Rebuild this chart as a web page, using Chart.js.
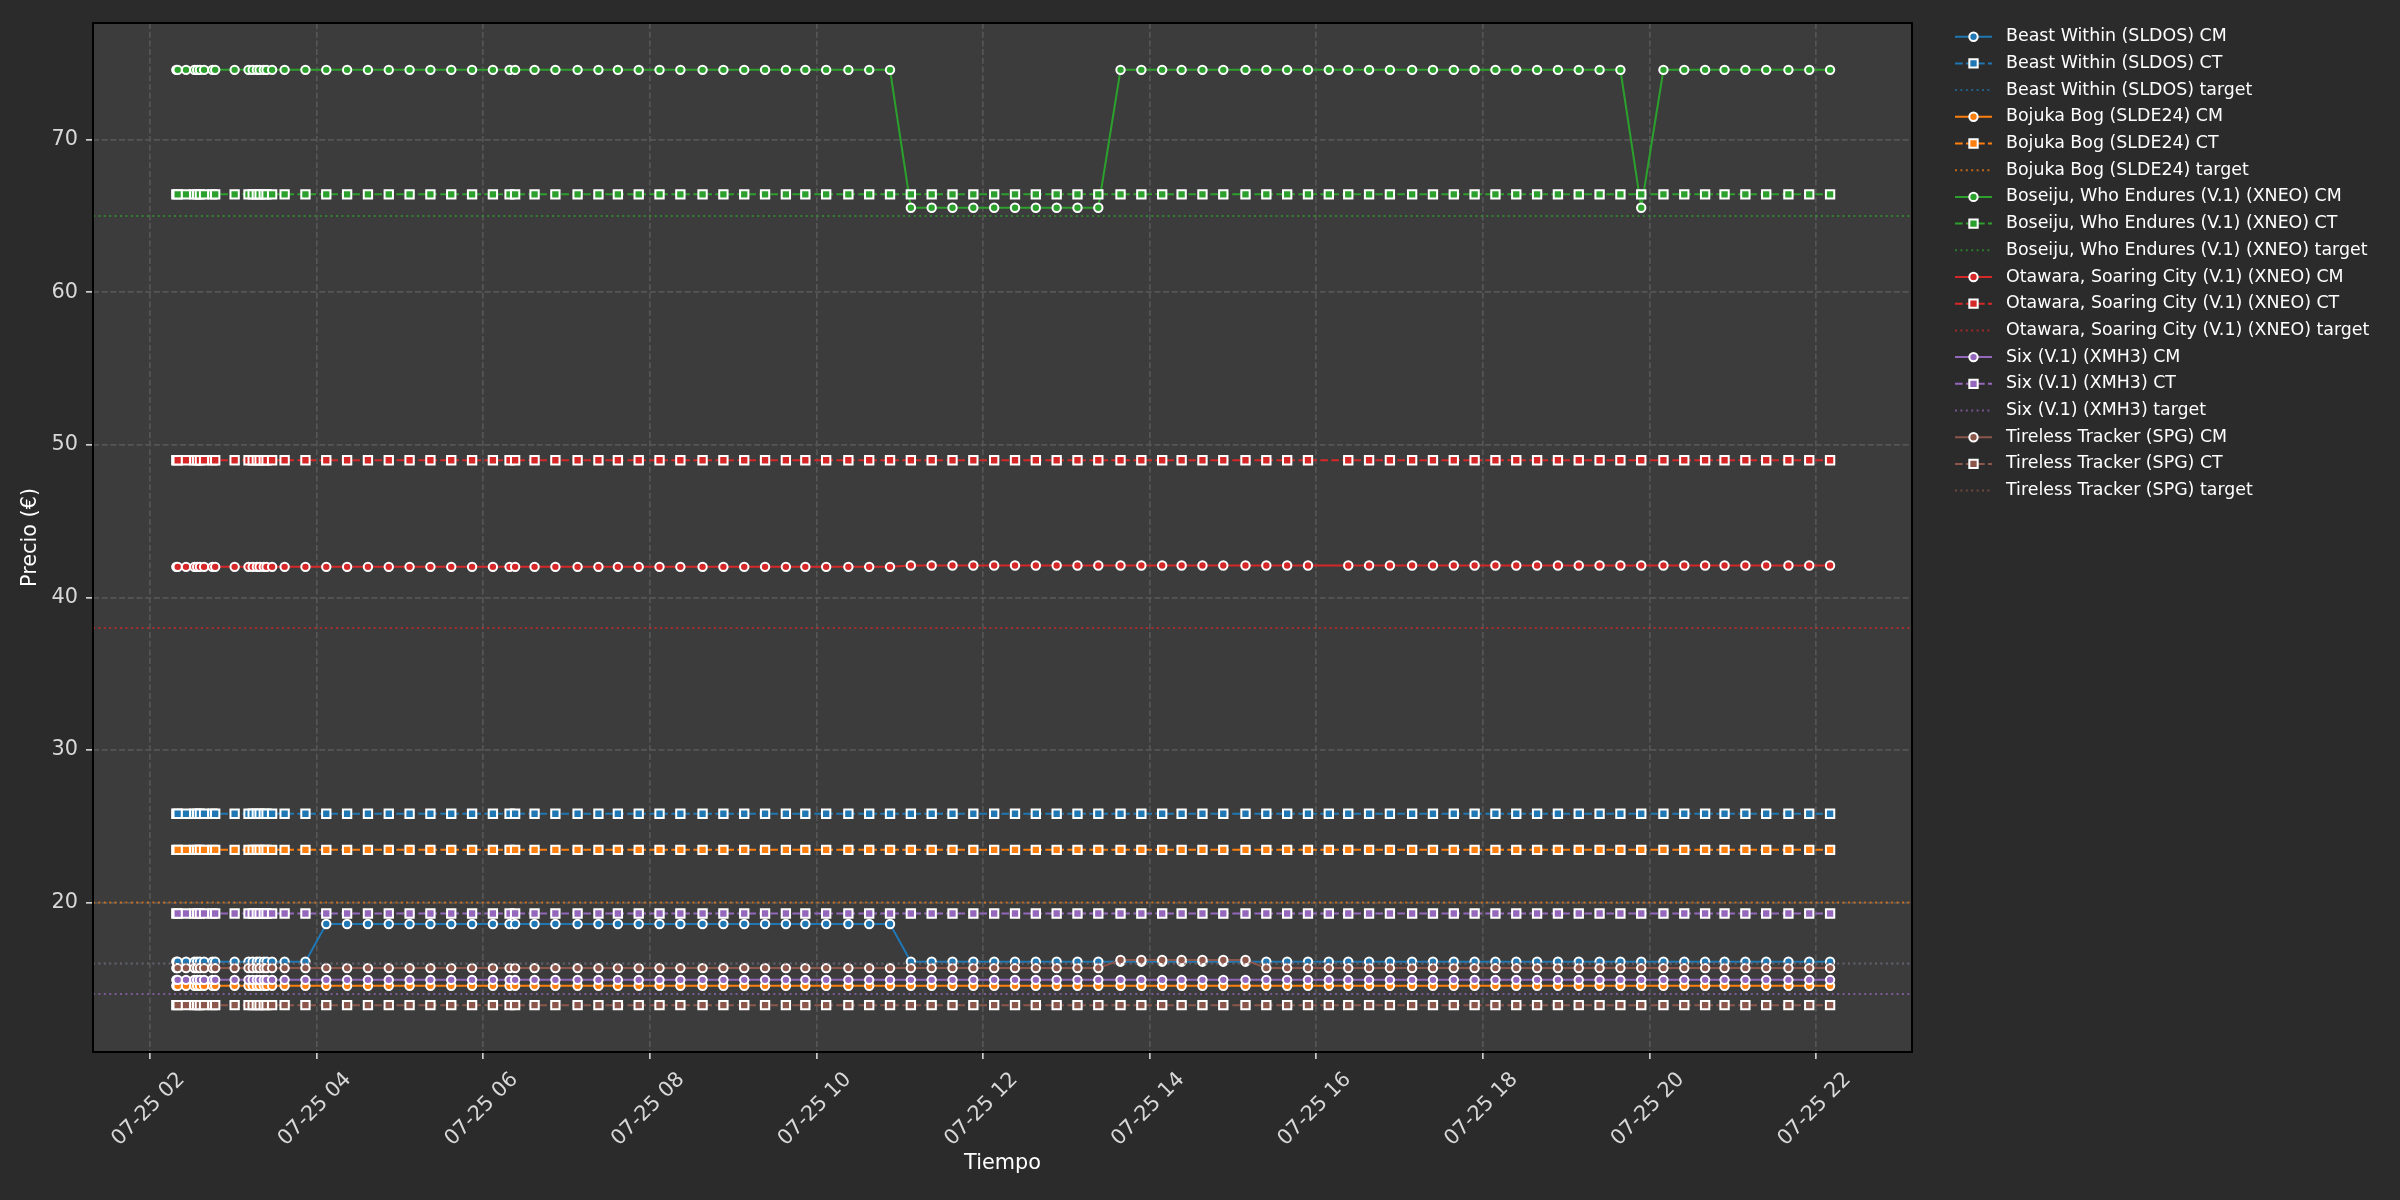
<!DOCTYPE html>
<html lang="es">
<head>
  <meta charset="UTF-8">
  <title>Precio CM / CT</title>
  <script src="https://cdn.jsdelivr.net/npm/chart.js"></script>
  <style>
    html, body {
      margin: 0;
      padding: 0;
      background: #2b2b2b;
    }
    #wrap {
      width: 2400px;
      height: 1200px;
    }
  </style>
</head>
<body>
  <div id="wrap"><canvas id="priceChart" width="2400" height="1200"></canvas></div>

  <script>
    // fecha de las muestras y horas de las marcas del eje x
    const day = '07-25';
    const xTickHours = [2, 4, 6, 8, 10, 12, 14, 16, 18, 20, 22];
    const yTicks = [20, 30, 40, 50, 60, 70];

    const times = [
      '02:19', '02:20', '02:26', '02:32', '02:34', '02:36', '02:39', '02:45', '02:47', '03:01',
      '03:11', '03:14', '03:17', '03:19', '03:22', '03:24', '03:28', '03:37', '03:52', '04:07',
      '04:22', '04:37', '04:52', '05:07', '05:22', '05:37', '05:52', '06:07', '06:19', '06:23',
      '06:37', '06:52', '07:08', '07:23', '07:37', '07:52', '08:07', '08:22', '08:38', '08:53',
      '09:08', '09:23', '09:38', '09:52', '10:07', '10:23', '10:38', '10:53', '11:08', '11:23',
      '11:38', '11:53', '12:08', '12:23', '12:38', '12:53', '13:08', '13:23', '13:39', '13:54',
      '14:09', '14:23', '14:38', '14:53', '15:09', '15:24', '15:39', '15:54', '16:09', '16:23',
      '16:38', '16:53', '17:09', '17:24', '17:39', '17:54', '18:09', '18:24', '18:39', '18:54',
      '19:09', '19:24', '19:39', '19:54', '20:10', '20:25', '20:40', '20:54', '21:09', '21:24',
      '21:40', '21:55', '22:10'
    ];

    const cards = [
      'Beast Within (SLDOS)',
      'Bojuka Bog (SLDE24)',
      'Boseiju, Who Endures (V.1) (XNEO)',
      'Otawara, Soaring City (V.1) (XNEO)',
      'Six (V.1) (XMH3)',
      'Tireless Tracker (SPG)'
    ];
    const colors = ['#1f77b4', '#ff7f0e', '#2ca02c', '#d62728', '#9467bd', '#8c564b'];
    const targetColors = ['rgba(31,119,180,0.7)', 'rgba(255,127,14,0.7)', 'rgba(44,160,44,0.7)',
                          'rgba(214,39,40,0.7)', 'rgba(148,103,189,0.7)', 'rgba(140,86,75,0.7)'];
    const targets = [16.0, 20.0, 65.0, 38.0, 14.0, 16.0];

    const beastCM = [
      16.12, 16.12, 16.12, 16.12, 16.12, 16.12, 16.12, 16.12, 16.12, 16.12,
      16.12, 16.12, 16.12, 16.12, 16.12, 16.12, 16.12, 16.12, 16.12, 18.59,
      18.59, 18.59, 18.59, 18.59, 18.59, 18.59, 18.59, 18.59, 18.59, 18.59,
      18.59, 18.59, 18.59, 18.59, 18.59, 18.59, 18.59, 18.59, 18.59, 18.59,
      18.59, 18.59, 18.59, 18.59, 18.59, 18.59, 18.59, 18.59, 16.12, 16.12,
      16.12, 16.12, 16.12, 16.12, 16.12, 16.12, 16.12, 16.12, 16.12, 16.12,
      16.12, 16.12, 16.12, 16.12, 16.12, 16.12, 16.12, 16.12, 16.12, 16.12,
      16.12, 16.12, 16.12, 16.12, 16.12, 16.12, 16.12, 16.12, 16.12, 16.12,
      16.12, 16.12, 16.12, 16.12, 16.12, 16.12, 16.12, 16.12, 16.12, 16.12,
      16.12, 16.12, 16.12
    ];
    const beastCT = [
      25.82, 25.82, 25.82, 25.82, 25.82, 25.82, 25.82, 25.82, 25.82, 25.82,
      25.82, 25.82, 25.82, 25.82, 25.82, 25.82, 25.82, 25.82, 25.82, 25.82,
      25.82, 25.82, 25.82, 25.82, 25.82, 25.82, 25.82, 25.82, 25.82, 25.82,
      25.82, 25.82, 25.82, 25.82, 25.82, 25.82, 25.82, 25.82, 25.82, 25.82,
      25.82, 25.82, 25.82, 25.82, 25.82, 25.82, 25.82, 25.82, 25.82, 25.82,
      25.82, 25.82, 25.82, 25.82, 25.82, 25.82, 25.82, 25.82, 25.82, 25.82,
      25.82, 25.82, 25.82, 25.82, 25.82, 25.82, 25.82, 25.82, 25.82, 25.82,
      25.82, 25.82, 25.82, 25.82, 25.82, 25.82, 25.82, 25.82, 25.82, 25.82,
      25.82, 25.82, 25.82, 25.82, 25.82, 25.82, 25.82, 25.82, 25.82, 25.82,
      25.82, 25.82, 25.82
    ];
    const bojukaCM = [
      14.54, 14.54, 14.54, 14.54, 14.54, 14.54, 14.54, 14.54, 14.54, 14.54,
      14.54, 14.54, 14.54, 14.54, 14.54, 14.54, 14.54, 14.54, 14.54, 14.54,
      14.54, 14.54, 14.54, 14.54, 14.54, 14.54, 14.54, 14.54, 14.54, 14.54,
      14.54, 14.54, 14.54, 14.54, 14.54, 14.54, 14.54, 14.54, 14.54, 14.54,
      14.54, 14.54, 14.54, 14.54, 14.54, 14.54, 14.54, 14.54, 14.54, 14.54,
      14.54, 14.54, 14.54, 14.54, 14.54, 14.54, 14.54, 14.54, 14.54, 14.54,
      14.54, 14.54, 14.54, 14.54, 14.54, 14.54, 14.54, 14.54, 14.54, 14.54,
      14.54, 14.54, 14.54, 14.54, 14.54, 14.54, 14.54, 14.54, 14.54, 14.54,
      14.54, 14.54, 14.54, 14.54, 14.54, 14.54, 14.54, 14.54, 14.54, 14.54,
      14.54, 14.54, 14.54
    ];
    const bojukaCT = [
      23.45, 23.45, 23.45, 23.45, 23.45, 23.45, 23.45, 23.45, 23.45, 23.45,
      23.45, 23.45, 23.45, 23.45, 23.45, 23.45, 23.45, 23.45, 23.45, 23.45,
      23.45, 23.45, 23.45, 23.45, 23.45, 23.45, 23.45, 23.45, 23.45, 23.45,
      23.45, 23.45, 23.45, 23.45, 23.45, 23.45, 23.45, 23.45, 23.45, 23.45,
      23.45, 23.45, 23.45, 23.45, 23.45, 23.45, 23.45, 23.45, 23.45, 23.45,
      23.45, 23.45, 23.45, 23.45, 23.45, 23.45, 23.45, 23.45, 23.45, 23.45,
      23.45, 23.45, 23.45, 23.45, 23.45, 23.45, 23.45, 23.45, 23.45, 23.45,
      23.45, 23.45, 23.45, 23.45, 23.45, 23.45, 23.45, 23.45, 23.45, 23.45,
      23.45, 23.45, 23.45, 23.45, 23.45, 23.45, 23.45, 23.45, 23.45, 23.45,
      23.45, 23.45, 23.45
    ];
    const boseijuCM = [
      74.58, 74.58, 74.58, 74.58, 74.58, 74.58, 74.58, 74.58, 74.58, 74.58,
      74.58, 74.58, 74.58, 74.58, 74.58, 74.58, 74.58, 74.58, 74.58, 74.58,
      74.58, 74.58, 74.58, 74.58, 74.58, 74.58, 74.58, 74.58, 74.58, 74.58,
      74.58, 74.58, 74.58, 74.58, 74.58, 74.58, 74.58, 74.58, 74.58, 74.58,
      74.58, 74.58, 74.58, 74.58, 74.58, 74.58, 74.58, 74.58, 65.54, 65.54,
      65.54, 65.54, 65.54, 65.54, 65.54, 65.54, 65.54, 65.54, 74.58, 74.58,
      74.58, 74.58, 74.58, 74.58, 74.58, 74.58, 74.58, 74.58, 74.58, 74.58,
      74.58, 74.58, 74.58, 74.58, 74.58, 74.58, 74.58, 74.58, 74.58, 74.58,
      74.58, 74.58, 74.58, 65.54, 74.58, 74.58, 74.58, 74.58, 74.58, 74.58,
      74.58, 74.58, 74.58
    ];
    const boseijuCT = [
      66.42, 66.42, 66.42, 66.42, 66.42, 66.42, 66.42, 66.42, 66.42, 66.42,
      66.42, 66.42, 66.42, 66.42, 66.42, 66.42, 66.42, 66.42, 66.42, 66.42,
      66.42, 66.42, 66.42, 66.42, 66.42, 66.42, 66.42, 66.42, 66.42, 66.42,
      66.42, 66.42, 66.42, 66.42, 66.42, 66.42, 66.42, 66.42, 66.42, 66.42,
      66.42, 66.42, 66.42, 66.42, 66.42, 66.42, 66.42, 66.42, 66.42, 66.42,
      66.42, 66.42, 66.42, 66.42, 66.42, 66.42, 66.42, 66.42, 66.42, 66.42,
      66.42, 66.42, 66.42, 66.42, 66.42, 66.42, 66.42, 66.42, 66.42, 66.42,
      66.42, 66.42, 66.42, 66.42, 66.42, 66.42, 66.42, 66.42, 66.42, 66.42,
      66.42, 66.42, 66.42, 66.42, 66.42, 66.42, 66.42, 66.42, 66.42, 66.42,
      66.42, 66.42, 66.42
    ];
    // a las 16:09 no hay dato de Otawara
    const otawaraCM = [
      42.00, 42.00, 42.00, 42.00, 42.00, 42.00, 42.00, 42.00, 42.00, 42.00,
      42.00, 42.00, 42.00, 42.00, 42.00, 42.00, 42.00, 42.00, 42.00, 42.00,
      42.00, 42.00, 42.00, 42.00, 42.00, 42.00, 42.00, 42.00, 42.00, 42.00,
      42.00, 42.00, 42.00, 42.00, 42.00, 42.00, 42.00, 42.00, 42.00, 42.00,
      42.00, 42.00, 42.00, 42.00, 42.00, 42.00, 42.00, 42.00, 42.09, 42.09,
      42.09, 42.09, 42.09, 42.09, 42.09, 42.09, 42.09, 42.09, 42.09, 42.09,
      42.09, 42.09, 42.09, 42.09, 42.09, 42.09, 42.09, 42.09, null, 42.09,
      42.09, 42.09, 42.09, 42.09, 42.09, 42.09, 42.09, 42.09, 42.09, 42.09,
      42.09, 42.09, 42.09, 42.09, 42.09, 42.09, 42.09, 42.09, 42.09, 42.09,
      42.09, 42.09, 42.09
    ];
    const otawaraCT = [
      48.99, 48.99, 48.99, 48.99, 48.99, 48.99, 48.99, 48.99, 48.99, 48.99,
      48.99, 48.99, 48.99, 48.99, 48.99, 48.99, 48.99, 48.99, 48.99, 48.99,
      48.99, 48.99, 48.99, 48.99, 48.99, 48.99, 48.99, 48.99, 48.99, 48.99,
      48.99, 48.99, 48.99, 48.99, 48.99, 48.99, 48.99, 48.99, 48.99, 48.99,
      48.99, 48.99, 48.99, 48.99, 48.99, 48.99, 48.99, 48.99, 48.99, 48.99,
      48.99, 48.99, 48.99, 48.99, 48.99, 48.99, 48.99, 48.99, 48.99, 48.99,
      48.99, 48.99, 48.99, 48.99, 48.99, 48.99, 48.99, 48.99, null, 48.99,
      48.99, 48.99, 48.99, 48.99, 48.99, 48.99, 48.99, 48.99, 48.99, 48.99,
      48.99, 48.99, 48.99, 48.99, 48.99, 48.99, 48.99, 48.99, 48.99, 48.99,
      48.99, 48.99, 48.99
    ];
    const sixCM = [
      14.93, 14.93, 14.93, 14.93, 14.93, 14.93, 14.93, 14.93, 14.93, 14.93,
      14.93, 14.93, 14.93, 14.93, 14.93, 14.93, 14.93, 14.93, 14.93, 14.93,
      14.93, 14.93, 14.93, 14.93, 14.93, 14.93, 14.93, 14.93, 14.93, 14.93,
      14.93, 14.93, 14.93, 14.93, 14.93, 14.93, 14.93, 14.93, 14.93, 14.93,
      14.93, 14.93, 14.93, 14.93, 14.93, 14.93, 14.93, 14.93, 14.93, 14.93,
      14.93, 14.93, 14.93, 14.93, 14.93, 14.93, 14.93, 14.93, 14.93, 14.93,
      14.93, 14.93, 14.93, 14.93, 14.93, 14.93, 14.93, 14.93, 14.93, 14.93,
      14.93, 14.93, 14.93, 14.93, 14.93, 14.93, 14.93, 14.93, 14.93, 14.93,
      14.93, 14.93, 14.93, 14.93, 14.93, 14.93, 14.93, 14.93, 14.93, 14.93,
      14.93, 14.93, 14.93
    ];
    const sixCT = [
      19.28, 19.28, 19.28, 19.28, 19.28, 19.28, 19.28, 19.28, 19.28, 19.28,
      19.28, 19.28, 19.28, 19.28, 19.28, 19.28, 19.28, 19.28, 19.28, 19.28,
      19.28, 19.28, 19.28, 19.28, 19.28, 19.28, 19.28, 19.28, 19.28, 19.28,
      19.28, 19.28, 19.28, 19.28, 19.28, 19.28, 19.28, 19.28, 19.28, 19.28,
      19.28, 19.28, 19.28, 19.28, 19.28, 19.28, 19.28, 19.28, 19.28, 19.28,
      19.28, 19.28, 19.28, 19.28, 19.28, 19.28, 19.28, 19.28, 19.28, 19.28,
      19.28, 19.28, 19.28, 19.28, 19.28, 19.28, 19.28, 19.28, 19.28, 19.28,
      19.28, 19.28, 19.28, 19.28, 19.28, 19.28, 19.28, 19.28, 19.28, 19.28,
      19.28, 19.28, 19.28, 19.28, 19.28, 19.28, 19.28, 19.28, 19.28, 19.28,
      19.28, 19.28, 19.28
    ];
    const tirelessCM = [
      15.70, 15.70, 15.70, 15.70, 15.70, 15.70, 15.70, 15.70, 15.70, 15.70,
      15.70, 15.70, 15.70, 15.70, 15.70, 15.70, 15.70, 15.70, 15.70, 15.70,
      15.70, 15.70, 15.70, 15.70, 15.70, 15.70, 15.70, 15.70, 15.70, 15.70,
      15.70, 15.70, 15.70, 15.70, 15.70, 15.70, 15.70, 15.70, 15.70, 15.70,
      15.70, 15.70, 15.70, 15.70, 15.70, 15.70, 15.70, 15.70, 15.70, 15.70,
      15.70, 15.70, 15.70, 15.70, 15.70, 15.70, 15.70, 15.70, 16.23, 16.23,
      16.23, 16.23, 16.23, 16.23, 16.23, 15.70, 15.70, 15.70, 15.70, 15.70,
      15.70, 15.70, 15.70, 15.70, 15.70, 15.70, 15.70, 15.70, 15.70, 15.70,
      15.70, 15.70, 15.70, 15.70, 15.70, 15.70, 15.70, 15.70, 15.70, 15.70,
      15.70, 15.70, 15.70
    ];
    const tirelessCT = [
      13.27, 13.27, 13.27, 13.27, 13.27, 13.27, 13.27, 13.27, 13.27, 13.27,
      13.27, 13.27, 13.27, 13.27, 13.27, 13.27, 13.27, 13.27, 13.27, 13.27,
      13.27, 13.27, 13.27, 13.27, 13.27, 13.27, 13.27, 13.27, 13.27, 13.27,
      13.27, 13.27, 13.27, 13.27, 13.27, 13.27, 13.27, 13.27, 13.27, 13.27,
      13.27, 13.27, 13.27, 13.27, 13.27, 13.27, 13.27, 13.27, 13.27, 13.27,
      13.27, 13.27, 13.27, 13.27, 13.27, 13.27, 13.27, 13.27, 13.27, 13.27,
      13.27, 13.27, 13.27, 13.27, 13.27, 13.27, 13.27, 13.27, 13.27, 13.27,
      13.27, 13.27, 13.27, 13.27, 13.27, 13.27, 13.27, 13.27, 13.27, 13.27,
      13.27, 13.27, 13.27, 13.27, 13.27, 13.27, 13.27, 13.27, 13.27, 13.27,
      13.27, 13.27, 13.27
    ];

    const cmSeries = [beastCM, bojukaCM, boseijuCM, otawaraCM, sixCM, tirelessCM];
    const ctSeries = [beastCT, bojukaCT, boseijuCT, otawaraCT, sixCT, tirelessCT];

    // limites de los ejes (minutos del dia / euros)
    const X_MIN = 79, X_MAX = 1389;
    const Y_MIN = 10.2, Y_MAX = 77.65;

    const toMinutes = t => {
      const [h, m] = t.split(':').map(Number);
      return h * 60 + m;
    };
    const pad2 = n => String(n).padStart(2, '0');
    const points = values => times.map((t, i) => ({ x: toMinutes(t), y: values[i] }));

    const datasets = [];
    cards.forEach((card, i) => {
      datasets.push({
        label: card + ' CM',
        data: points(cmSeries[i]),
        borderColor: colors[i],
        backgroundColor: colors[i],
        borderWidth: 2,
        pointStyle: 'circle',
        pointRadius: 4.2,
        pointBackgroundColor: colors[i],
        pointBorderColor: '#ffffff',
        pointBorderWidth: 2
      });
      datasets.push({
        label: card + ' CT',
        data: points(ctSeries[i]),
        borderColor: colors[i],
        backgroundColor: colors[i],
        borderWidth: 2,
        borderDash: [7.7, 3.3],
        pointStyle: 'rect',
        pointRadius: 5.9,
        pointBackgroundColor: colors[i],
        pointBorderColor: '#ffffff',
        pointBorderWidth: 2
      });
      datasets.push({
        label: card + ' target',
        data: [{ x: X_MIN, y: targets[i] }, { x: X_MAX, y: targets[i] }],
        borderColor: targetColors[i],
        borderWidth: 2,
        borderDash: [2, 3.4],
        pointRadius: 0
      });
    });
    // lo que se dibuja despues queda encima
    datasets.forEach((ds, i) => {
      ds.order = datasets.length - i;
      ds.spanGaps = true;
      ds.tension = 0;
      ds.fill = false;
    });

    const background = {
      id: 'background',
      beforeDraw(chart) {
        const { ctx, chartArea: a } = chart;
        ctx.save();
        ctx.fillStyle = '#2b2b2b';
        ctx.fillRect(0, 0, chart.width, chart.height);
        ctx.fillStyle = '#3c3c3c';
        ctx.fillRect(a.left, a.top, a.right - a.left, a.bottom - a.top);
        ctx.restore();
      }
    };

    const frame = {
      id: 'frame',
      afterDatasetsDraw(chart) {
        const { ctx, chartArea: a } = chart;
        ctx.save();
        ctx.strokeStyle = '#000000';
        ctx.lineWidth = 2;
        ctx.strokeRect(a.left, a.top, a.right - a.left, a.bottom - a.top);
        ctx.restore();
      }
    };

    // leyenda al estilo matplotlib: linea + marcador + texto
    const sideLegend = {
      id: 'sideLegend',
      afterDraw(chart) {
        const ctx = chart.ctx;
        const x0 = chart.chartArea.right + 43;
        chart.data.datasets.forEach((ds, i) => {
          const y = 36.7 + i * 26.7;
          ctx.save();
          ctx.strokeStyle = ds.borderColor;
          ctx.lineWidth = ds.borderWidth;
          ctx.setLineDash(ds.borderDash || []);
          ctx.beginPath();
          ctx.moveTo(x0, y);
          ctx.lineTo(x0 + 37, y);
          ctx.stroke();
          ctx.setLineDash([]);
          if (ds.pointRadius > 0) {
            const cx = x0 + 18.5;
            ctx.fillStyle = ds.pointBackgroundColor;
            ctx.strokeStyle = ds.pointBorderColor;
            ctx.lineWidth = ds.pointBorderWidth;
            ctx.beginPath();
            if (ds.pointStyle === 'rect') {
              const s = ds.pointRadius * Math.SQRT1_2;
              ctx.rect(cx - s, y - s, 2 * s, 2 * s);
            } else {
              ctx.arc(cx, y, ds.pointRadius, 0, Math.PI * 2);
            }
            ctx.fill();
            ctx.stroke();
          }
          ctx.font = '17.4px "DejaVu Sans"';
          ctx.fillStyle = '#ffffff';
          ctx.textBaseline = 'middle';
          ctx.fillText(ds.label, x0 + 51, y);
          ctx.restore();
        });
      }
    };

    Chart.defaults.font.family = '"DejaVu Sans", sans-serif';

    new Chart(document.getElementById('priceChart').getContext('2d'), {
      type: 'line',
      data: { datasets: datasets },
      plugins: [background, frame, sideLegend],
      options: {
        responsive: false,
        devicePixelRatio: 1,
        animation: false,
        events: [],
        layout: { padding: { left: 0, top: 23, right: 488, bottom: 0 } },
        plugins: {
          legend: { display: false },
          tooltip: { enabled: false }
        },
        scales: {
          x: {
            type: 'linear',
            min: X_MIN,
            max: X_MAX,
            afterBuildTicks: scale => {
              scale.ticks = xTickHours.map(h => ({ value: h * 60 }));
            },
            afterFit: scale => { scale.height = 148; },
            ticks: {
              autoSkip: false,
              minRotation: 45,
              maxRotation: 45,
              labelOffset: 31.5,
              padding: 8.5,
              color: '#d8d8d8',
              font: { size: 20.8 },
              callback: value => day + ' ' + pad2(Math.round(value / 60))
            },
            grid: {
              color: '#555555',
              lineWidth: 1.7,
              tickLength: 7,
              tickColor: '#cccccc',
              tickWidth: 1.7
            },
            border: { display: false, dash: [6, 2.7] },
            title: {
              display: true,
              text: 'Tiempo',
              color: '#ffffff',
              font: { size: 20.8 },
              padding: { top: 0, bottom: 24 }
            }
          },
          y: {
            min: Y_MIN,
            max: Y_MAX,
            afterBuildTicks: scale => {
              scale.ticks = yTicks.map(v => ({ value: v }));
            },
            afterFit: scale => { scale.width = 93; },
            ticks: {
              padding: 8,
              color: '#d8d8d8',
              font: { size: 20.8 },
              callback: value => String(value)
            },
            grid: {
              color: '#555555',
              lineWidth: 1.7,
              tickLength: 7,
              tickColor: '#cccccc',
              tickWidth: 1.7
            },
            border: { display: false, dash: [6, 2.7] },
            title: {
              display: true,
              text: 'Precio (€)',
              color: '#ffffff',
              font: { size: 20.8 },
              padding: { top: 18, bottom: 0 }
            }
          }
        }
      }
    });
  </script>
</body>
</html>
